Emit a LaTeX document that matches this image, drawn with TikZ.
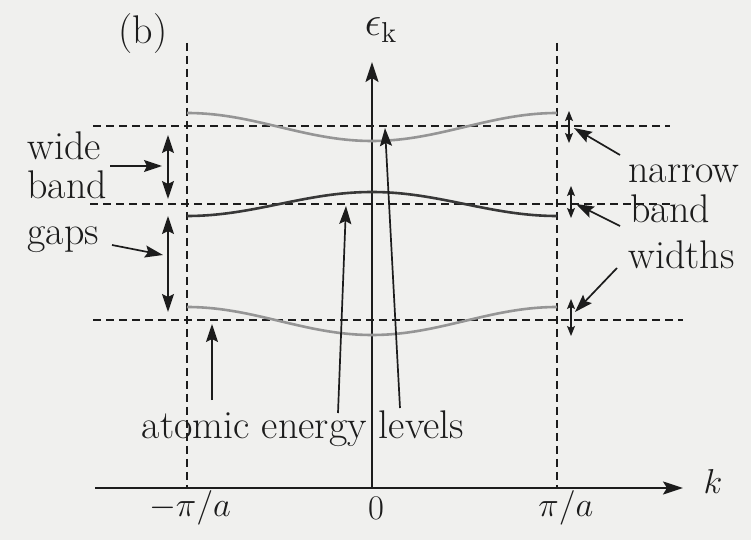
\documentclass[tikz,border=0pt]{standalone}
\usepackage{amsmath,amssymb}
\usetikzlibrary{arrows.meta,positioning}
\definecolor{bdink}{HTML}{1C1C1C}
\definecolor{bdgrey}{HTML}{959595}
\definecolor{bddark}{HTML}{383838}
\definecolor{bdpaper}{HTML}{F0F0EE}
\tikzset{
  axis/.style={draw=bdink,line width=1pt,-{Stealth[length=10pt,width=6.5pt,inset=2pt]}},
  level/.style={draw=bdink,line width=.85pt,dash pattern=on 4pt off 2.5pt},
  zone/.style={draw=bdink,line width=.85pt,dash pattern=on 4pt off 2.5pt},
  bandlo/.style={draw=bdgrey,line width=1.3pt},
  bandhi/.style={draw=bddark,line width=1.3pt},
  pointer/.style={draw=bdink,line width=.85pt,-{Stealth[length=9pt,width=6pt,inset=1.5pt]}},
  span/.style={draw=bdink,line width=.85pt,{Stealth[length=9pt,width=6pt,inset=1.5pt]}-{Stealth[length=9pt,width=6pt,inset=1.5pt]}},
  smallspan/.style={draw=bdink,line width=.6pt,{Stealth[length=5pt,width=4pt,inset=1pt]}-{Stealth[length=5pt,width=4pt,inset=1pt]}},
  word/.style={font=\fontsize{20}{24}\selectfont,text=bdink,inner sep=0pt},
  tick/.style={font=\fontsize{18.5}{22}\selectfont,text=bdink,inner sep=0pt},
}

\begin{document}
\begin{tikzpicture}[x=.5pt,y=-.5pt]
  \fill[bdpaper] (0,0) rectangle (751,540);
  \useasboundingbox (0,0) rectangle (751,540);

  % axes
  \coordinate (kstart) at (95,488);
  \coordinate (ktip) at (683,488);
  \coordinate (orig) at (372,488);
  \coordinate (etip) at (372,62);
  \draw[axis] (kstart) -- (ktip);
  \draw[axis] (orig) -- (etip);
  \node[tick] (klab) at (713,481) {$k$};
  \node[tick,font=\fontsize{22}{26}\selectfont] (elab) at (381,30) {$\epsilon_{\mathrm{k}}$};
  \node[word] (blab) at (143,34) {(b)};
  \node[tick] (lzone) at (190,508) {$-\pi/a$};
  \node[tick] (zero) at (376,508) {$0$};
  \node[tick] (rzone) at (566,508) {$\pi/a$};

  % zone boundaries
  \coordinate (zlt) at (187,43);
  \coordinate (zlb) at (187,488);
  \coordinate (zrt) at (557,43);
  \coordinate (zrb) at (557,488);
  \draw[zone] (zlt) -- (zlb);
  \draw[zone] (zrt) -- (zrb);

  % atomic levels
  \coordinate (l3a) at (93,126);  \coordinate (l3b) at (670,126);
  \coordinate (l2a) at (90,204);  \coordinate (l2b) at (675,204);
  \coordinate (l1a) at (93,320);  \coordinate (l1b) at (683,320);
  \draw[level] (l3a) -- (l3b);
  \draw[level] (l2a) -- (l2b);
  \draw[level] (l1a) -- (l1b);

  % bands
  \draw[bandlo] plot[domain=187:557,samples=80] (\x,{127+14*cos(0.973*(\x-372))});
  \draw[bandhi] plot[domain=187:557,samples=80] (\x,{204-12*cos(0.973*(\x-372))});
  \draw[bandlo] plot[domain=187:557,samples=80] (\x,{321+14*cos(0.973*(\x-372))});

  % left labels
  \node[word,anchor=base west] (wide) at (27,160) {wide};
  \node[word,anchor=base west] (band) at (27,199) {band};
  \node[word,anchor=base west] (gaps) at (27,245) {gaps};
  \coordinate (wtop) at (168,135);  \coordinate (wbot) at (168,199);
  \coordinate (gtop) at (168,216);  \coordinate (gbot) at (168,312);
  \draw[span] (wtop) -- (wbot);
  \draw[span] (gtop) -- (gbot);
  \coordinate (wtail) at (110,166);  \coordinate (whead) at (162,166);
  \coordinate (gtail) at (112,245);  \coordinate (ghead) at (163,255);
  \draw[pointer] (wtail) -- (whead);
  \draw[pointer] (gtail) -- (ghead);

  % atomic energy levels
  \node[word,anchor=base] (atomic) at (303,438) {atomic energy levels};
  \coordinate (a1t) at (212,400);  \coordinate (a1h) at (212,324);
  \coordinate (a2t) at (338,413);  \coordinate (a2h) at (346,206);
  \coordinate (a3t) at (400,408);  \coordinate (a3h) at (385,128);
  \draw[pointer] (a1t) -- (a1h);
  \draw[pointer] (a2t) -- (a2h);
  \draw[pointer] (a3t) -- (a3h);

  % narrow band widths
  \node[word,anchor=base west] (narrow) at (628,183) {narrow};
  \node[word,anchor=base west] (nband) at (630,223) {band};
  \node[word,anchor=base west] (widths) at (628,269) {widths};
  \coordinate (n3t) at (569,111);  \coordinate (n3b) at (569,143);
  \coordinate (n2t) at (571,186);  \coordinate (n2b) at (571,218);
  \coordinate (n1t) at (571,299);  \coordinate (n1b) at (571,336);
  \draw[smallspan] (n3t) -- (n3b);
  \draw[smallspan] (n2t) -- (n2b);
  \draw[smallspan] (n1t) -- (n1b);
  \coordinate (p3t) at (620,155);  \coordinate (p3h) at (574,128);
  \coordinate (p2t) at (620,226);  \coordinate (p2h) at (576,204);
  \coordinate (p1t) at (617,268);  \coordinate (p1h) at (575,312);
  \draw[pointer] (p3t) -- (p3h);
  \draw[pointer] (p2t) -- (p2h);
  \draw[pointer] (p1t) -- (p1h);
\end{tikzpicture}
\end{document}
